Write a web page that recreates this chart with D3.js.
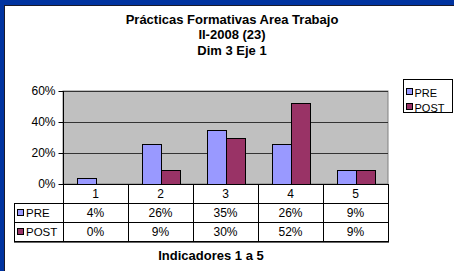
<!DOCTYPE html>
<html><head><meta charset="utf-8">
<script src="https://cdn.jsdelivr.net/npm/d3@7"></script>
<style>body{margin:0;background:#fff}svg{display:block;font-family:"Liberation Sans",Arial,sans-serif}</style>
</head><body><svg id="c" width="454" height="271"></svg>
<script>
const titleLines = ["Prácticas Formativas Area Trabajo", "II-2008 (23)", "Dim 3 Eje 1"];
const xTitle = "Indicadores 1 a 5";
const categories = ["1", "2", "3", "4", "5"];
const seriesNames = ["PRE", "POST"];
const preValues = [0.04, 0.26, 0.35, 0.26, 0.09];
const postValues = [0.00, 0.09, 0.30, 0.52, 0.09];
const yTicks = [0, 0.2, 0.4, 0.6];
const colors = ["#9999FF", "#993366"];

const svg = d3.select("#c");
const series = [preValues, postValues];
const fmt = d3.format(".0%");

// frame
svg.append("rect").attr("x",0).attr("y",0).attr("width",454).attr("height",271).attr("fill","#fff");
svg.append("rect").attr("x",0).attr("y",0).attr("width",454).attr("height",5).attr("fill","#0033A0");
svg.append("rect").attr("x",0).attr("y",0).attr("width",4).attr("height",271).attr("fill","#0033A0");
svg.append("line").attr("x1",4.5).attr("x2",454).attr("y1",5.5).attr("y2",5.5).attr("stroke","#1a1a2a");
svg.append("line").attr("x1",4.5).attr("x2",4.5).attr("y1",5).attr("y2",271).attr("stroke","#1a1a2a");

// title
titleLines.forEach((t,i)=>{
  svg.append("text").attr("x",232).attr("y",23.5+i*15.5).attr("text-anchor","middle")
    .attr("font-size","13px").attr("font-weight","bold").text(t);
});

const x = d3.scaleBand().domain(categories).range([63,388]);
const y = d3.scaleLinear().domain([0,0.6]).range([184,91]);
const xs = d3.scaleBand().domain(seriesNames).range([0,38]);
const barOff = (x.bandwidth()-38)/2;

// plot bg
svg.append("rect").attr("x",63).attr("y",y(0.6)).attr("width",325).attr("height",y(0)-y(0.6))
  .attr("fill","#C0C0C0").attr("stroke","#808080");

// grid
svg.append("g").selectAll("line").data(yTicks.filter(d=>d>0)).join("line")
  .attr("x1",63).attr("x2",388).attr("y1",d=>Math.round(y(d))+0.5).attr("y2",d=>Math.round(y(d))+0.5)
  .attr("stroke","#333");

// bars
seriesNames.forEach((s,si)=>{
  svg.append("g").selectAll("rect").data(series[si]).join("rect")
    .attr("x",(d,i)=>Math.round(x(categories[i])+barOff+xs(s))+0.5)
    .attr("y",d=>Math.round(y(d))+0.5)
    .attr("width",xs.bandwidth())
    .attr("height",d=>Math.max(0,y(0)-Math.round(y(d))))
    .attr("fill",colors[si]).attr("stroke","#000").attr("stroke-width",1)
    .style("display",d=>d>0?null:"none");
});

// y axis
const ya = d3.axisLeft(y).tickValues(yTicks).tickFormat(fmt).tickSize(5).tickPadding(3);
const yg = svg.append("g").attr("transform","translate(63.5,0)").call(ya);
yg.select(".domain").attr("stroke","#000").attr("d","M0,"+y(0.6)+"V"+y(0));
yg.selectAll("text").attr("font-size","12px").attr("font-family","Liberation Sans, Arial, sans-serif");

// data table
const rowY = [184, 203, 222, 241];
const tg = svg.append("g").attr("stroke","#000").attr("shape-rendering","crispEdges");
tg.append("line").attr("x1",63).attr("x2",388).attr("y1",rowY[0]+0.5).attr("y2",rowY[0]+0.5);
rowY.slice(1).forEach(yy=>tg.append("line").attr("x1",14).attr("x2",388).attr("y1",yy+0.5).attr("y2",yy+0.5));
tg.append("line").attr("x1",14).attr("x2",389).attr("y1",rowY[3]+1.5).attr("y2",rowY[3]+1.5).attr("stroke","#666");
const colX = categories.map(c=>x(c)).concat([388]);
colX.forEach(cx=>tg.append("line").attr("x1",Math.round(cx)+0.5).attr("x2",Math.round(cx)+0.5).attr("y1",rowY[0]).attr("y2",rowY[3]+1));
tg.append("line").attr("x1",14.5).attr("x2",14.5).attr("y1",rowY[1]).attr("y2",rowY[3]+1);

svg.append("g").selectAll("text").data(categories).join("text")
  .attr("x",d=>x(d)+x.bandwidth()/2).attr("y",rowY[0]+14).attr("text-anchor","middle")
  .attr("font-size","12px").text(d=>d);
seriesNames.forEach((s,si)=>{
  const yy = rowY[si+1];
  svg.append("rect").attr("x",17.5).attr("y",yy+6.5).attr("width",6).attr("height",6)
    .attr("fill",colors[si]).attr("stroke","#000");
  svg.append("text").attr("x",26).attr("y",yy+14).attr("font-size","11.5px").text(s);
  svg.append("g").selectAll("text").data(series[si]).join("text")
    .attr("x",(d,i)=>x(categories[i])+x.bandwidth()/2).attr("y",yy+14).attr("text-anchor","middle")
    .attr("font-size","12px").text(d=>fmt(d));
});

// x title
svg.append("text").attr("x",211).attr("y",259.5).attr("text-anchor","middle")
  .attr("font-size","13px").attr("font-weight","bold").text(xTitle);

// legend
svg.append("rect").attr("x",403.5).attr("y",79.5).attr("width",49).attr("height",33)
  .attr("fill","#fff").attr("stroke","#000");
seriesNames.forEach((s,si)=>{
  const cy = 92 + si*15;
  svg.append("rect").attr("x",406.5).attr("y",cy-3.5).attr("width",6).attr("height",6)
    .attr("fill",colors[si]).attr("stroke","#000");
  svg.append("text").attr("x",414.5).attr("y",cy+4.5).attr("font-size","11px").text(s);
});
</script></body></html>
